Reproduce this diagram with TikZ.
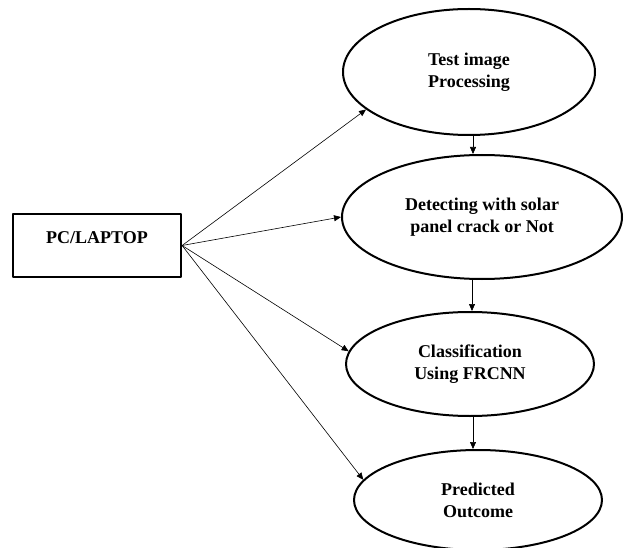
\documentclass[tikz,border=0pt]{standalone}
\usepackage{fontspec}
\setmainfont{Liberation Serif}
\usetikzlibrary{arrows.meta,shapes.geometric}

\begin{document}
\begin{tikzpicture}[
  x=1pt,
  y=-1pt,
  line join=round,
  stage/.style={draw=black,line width=2pt,ellipse,inner sep=0pt,align=center,
    font=\fontsize{18}{22}\selectfont\bfseries},
  device/.style={draw=black,line width=2.2pt,rectangle,inner sep=0pt,text depth=15pt,
    minimum width=168pt,minimum height=63pt,font=\fontsize{18}{22}\selectfont\bfseries},
  link/.style={draw=black,line width=0.6pt,-{Triangle[length=7pt,width=6pt]}}
]
  \useasboundingbox (0,0) rectangle (624,548);

  % Source box on the left.
  \node[device] (pc) at (97,245.5) {PC/LAPTOP};

  % Processing stages, top to bottom.
  \node[stage,minimum width=252pt,minimum height=126pt] (test) at (469,72) {Test image\\Processing};
  \node[stage,minimum width=280pt,minimum height=124pt] (detect) at (482,217) {Detecting with solar\\panel crack or Not};
  \node[stage,minimum width=248pt,minimum height=104pt] (classify) at (470,364) {Classification\\Using FRCNN};
  \node[stage,minimum width=248pt,minimum height=100pt] (outcome) at (478,500) {Predicted\\Outcome};

  % Fan of arrows from the box.
  \draw[link] (pc.east) -- (test.200);
  \draw[link] (pc.east) -- (detect.west);
  \draw[link] (pc.east) -- (classify.174);
  \draw[link] (pc.east) -- (outcome.170);

  % Chain between the stages.
  \draw[link] ([xshift=4pt]test.south) -- ([xshift=4pt]test.south |- detect.north);
  \draw[link] ([xshift=2pt]classify.north |- detect.south) -- ([xshift=2pt]classify.north);
  \draw[link] ([xshift=3pt]classify.south) -- ([xshift=3pt]classify.south |- outcome.north);
\end{tikzpicture}
\end{document}
